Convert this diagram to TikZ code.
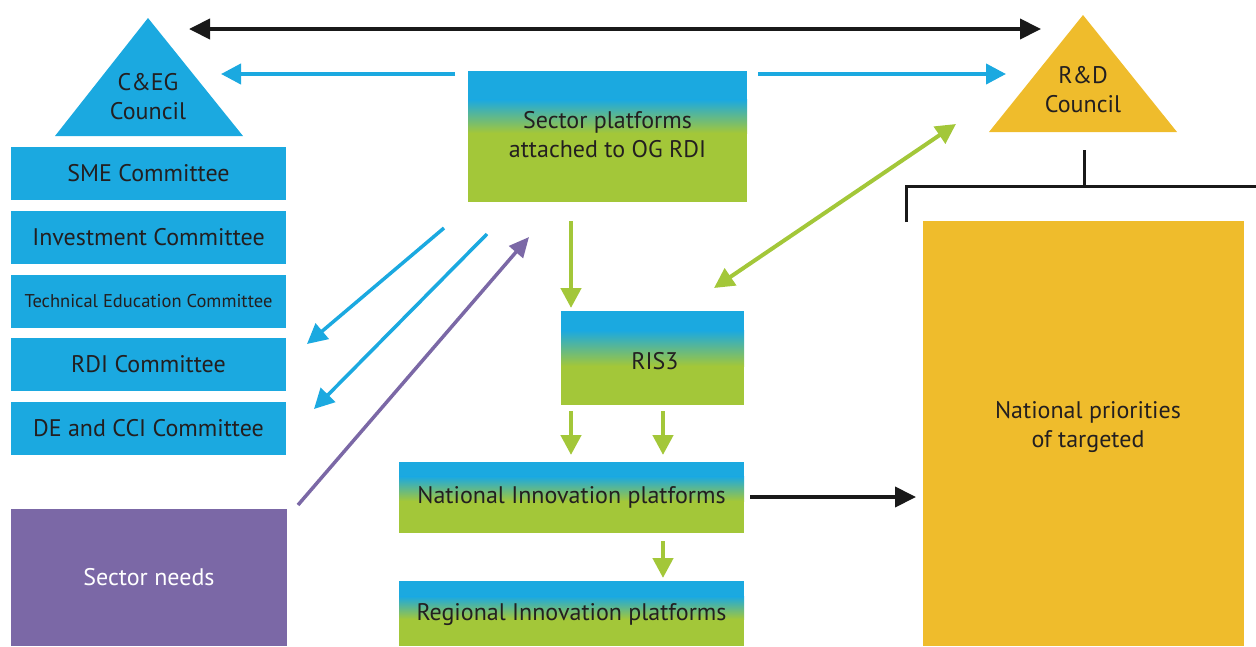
\documentclass[tikz,border=0pt]{standalone}
\usepackage{fontspec}
\setmainfont{PT Sans}
\usetikzlibrary{arrows.meta}
\definecolor{cblue}{RGB}{27,169,224}
\definecolor{cgreen}{RGB}{163,199,57}
\definecolor{cyellow}{RGB}{239,188,44}
\definecolor{cpurple}{RGB}{123,104,166}
\definecolor{ctext}{RGB}{35,31,32}
\begin{document}
\begin{tikzpicture}[x=1pt,y=-1pt,
  txt/.style={text=ctext,font=\fontsize{24}{29}\selectfont,align=center,inner sep=0pt},
  box/.style={fill=cblue,inner sep=0pt,minimum width=275pt,minimum height=53pt,text=ctext,font=\fontsize{24}{29}\selectfont},
  barr/.style={line width=4pt,cblue,-{Triangle[length=20pt,width=20pt]}},
  garr/.style={line width=4.5pt,cgreen,-{Triangle[length=20pt,width=20pt]}},
  karr/.style={line width=4pt,black!90,{Triangle[length=21pt,width=20pt]}-{Triangle[length=21pt,width=20pt]}},
  bl/.style={line width=3pt,black!90}]
\useasboundingbox (0,0) rectangle (1256,646);
% triangles
\fill[cblue] (148,18) -- (243,136) -- (55,136) -- cycle;
\node[txt] (ceg) at (148,97) {C\&EG\\Council};
\fill[cyellow] (1083,15) -- (1177,132) -- (989,132) -- cycle;
\node[txt] (rd) at (1083,90) {R\&D\\Council};
% left boxes
\node[box] (sme) at (148.5,173.5) {SME Committee};
\node[box] (inv) at (148.5,237.5) {Investment Committee};
\node[box,font=\fontsize{18.5}{22}\selectfont] (tec) at (148.5,301.5) {Technical Education Committee};
\node[box] (rdi) at (148.5,364.5) {RDI Committee};
\node[box] (dec) at (148.5,428.5) {DE and CCI Committee};
\node[fill=cpurple,inner sep=0pt,minimum width=276pt,minimum height=137pt,text=white,font=\fontsize{24}{29}\selectfont] (sn) at (149,577.5) {Sector needs};
% gradient boxes
\fill[cblue] (468,71) rectangle (747,100);
\shade[top color=cblue,bottom color=cgreen] (468,99.5) rectangle (747,133);
\fill[cgreen] (468,132.5) rectangle (747,202);
\node[txt,minimum width=279pt,minimum height=131pt] (sp) at (607.5,134.5) {Sector platforms\\attached to OG RDI};
\fill[cblue] (561,311) rectangle (744,331);
\shade[top color=cblue,bottom color=cgreen] (561,330.5) rectangle (744,366);
\fill[cgreen] (561,365.5) rectangle (744,405);
\node[txt,minimum width=183pt,minimum height=94pt] (ris) at (655,361) {RIS3};
\fill[cblue] (399,462) rectangle (744,477);
\shade[top color=cblue,bottom color=cgreen] (399,476.5) rectangle (744,501);
\fill[cgreen] (399,500.5) rectangle (744,533);
\node[txt,minimum width=345pt,minimum height=71pt] (nip) at (571.5,497.5) {National Innovation platforms};
\fill[cblue] (399,581) rectangle (744,597);
\shade[top color=cblue,bottom color=cgreen] (399,596.5) rectangle (744,619);
\fill[cgreen] (399,618.5) rectangle (744,646);
\node[txt,minimum width=345pt,minimum height=65pt] (rip) at (571.5,614.5) {Regional Innovation platforms};
% national priorities
\node[fill=cyellow,inner sep=0pt,minimum width=321pt,minimum height=425pt,text=ctext,font=\fontsize{24}{29}\selectfont,align=center] (np) at (1083,433.5) {};
\node[txt] (nptext) at (1088,427) {National priorities\\of targeted};
% coordinates for connectors
\coordinate (k1) at (189,29);
\coordinate (k2) at (1041,29);
\coordinate (b1s) at (455,74);
\coordinate (b1e) at (221,74);
\coordinate (b2s) at (758,74);
\coordinate (b2e) at (1006,74);
\coordinate (d1s) at (444,228);
\coordinate (d1e) at (307,344);
\coordinate (d2s) at (487,234);
\coordinate (d2e) at (314,409);
\coordinate (ps) at (298,505);
\coordinate (pe) at (529,237);
\coordinate (g1s) at (571,221);
\coordinate (g1e) at (571,308);
\coordinate (g2s) at (571,411);
\coordinate (g2e) at (571,455);
\coordinate (g3s) at (663,411);
\coordinate (g3e) at (663,455);
\coordinate (g4s) at (663,541);
\coordinate (g4e) at (663,578);
\coordinate (gd1) at (714,288);
\coordinate (gd2) at (956,124);
\coordinate (ka) at (750,497);
\coordinate (kb) at (916,497);
\coordinate (br0) at (1084,150);
\coordinate (br1) at (1084,186);
\coordinate (br2) at (906,186);
\coordinate (br3) at (906,222);
\coordinate (br4) at (1256,186);
% connectors
\draw[karr] (k1) -- (k2);
\draw[barr] (b1s) -- (b1e);
\draw[barr] (b2s) -- (b2e);
\draw[barr,line width=3.5pt] (d1s) -- (d1e);
\draw[barr,line width=3.5pt] (d2s) -- (d2e);
\draw[line width=3.5pt,cpurple,-{Triangle[length=20pt,width=18pt]}] (ps) -- (pe);
\draw[garr] (g1s) -- (g1e);
\draw[garr] (g2s) -- (g2e);
\draw[garr] (g3s) -- (g3e);
\draw[garr] (g4s) -- (g4e);
\draw[garr,line width=4pt,{Triangle[length=20pt,width=20pt]}-{Triangle[length=20pt,width=20pt]}] (gd1) -- (gd2);
\draw[line width=4pt,black!90,-{Triangle[length=21pt,width=20pt]}] (ka) -- (kb);
\draw[bl] (br0) -- (br1);
\draw[bl] (br3) -- (br2) -- (br4);
\end{tikzpicture}
\end{document}
